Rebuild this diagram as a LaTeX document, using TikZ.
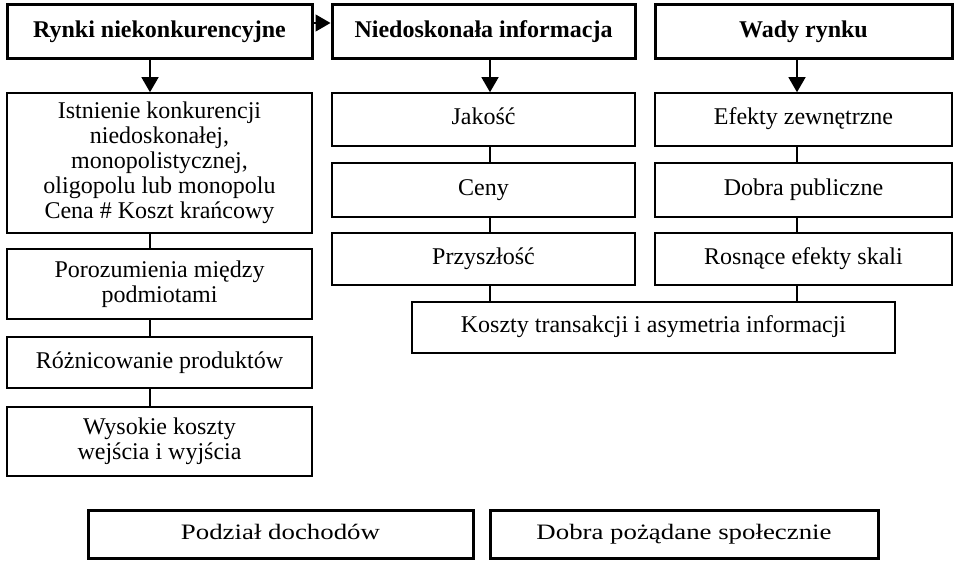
\documentclass[tikz,border=0pt]{standalone}
\usepackage{fontspec}
\usepackage{graphicx}
\setmainfont{Liberation Serif}
\usetikzlibrary{arrows.meta}
\newcommand{\widetext}[1]{\scalebox{1.22}[1]{#1}}
\begin{document}
\begin{tikzpicture}[x=1pt,y=-1pt,
  box/.style={draw, line width=1.6pt, inner sep=0pt, align=center,
    font=\fontsize{24}{25}\selectfont},
  oneline/.style={text height=16pt, text depth=5pt},
  headbox/.style={box, oneline, line width=3pt, font=\fontsize{24}{25}\selectfont\bfseries},
  basebox/.style={box, oneline, line width=3pt, font=\fontsize{22}{25}\selectfont},
  link/.style={line width=1.4pt},
  arr/.style={line width=1.4pt, -{Triangle[length=15pt,width=17pt]}}]
\useasboundingbox (0,0) rectangle (956,561);

% header row
\node[headbox, minimum width=305pt, minimum height=54pt] (h1) at (159.5,32) {Rynki niekonkurencyjne};
\node[headbox, minimum width=303pt, minimum height=54pt] (h2) at (483.5,32) {Niedoskonała informacja};
\node[headbox, minimum width=297pt, minimum height=54pt] (h3) at (803.5,32) {Wady rynku};

% left column
\node[box, minimum width=305pt, minimum height=140pt] (l1) at (159.5,163)
  {Istnienie konkurencji\\niedoskonałej,\\monopolistycznej,\\oligopolu lub monopolu\\Cena \# Koszt krańcowy};
\node[box, minimum width=305pt, minimum height=70pt] (l2) at (159.5,284) {Porozumienia między\\podmiotami};
\node[box, oneline, minimum width=305pt, minimum height=51pt] (l3) at (159.5,362.5) {Różnicowanie produktów};
\node[box, minimum width=305pt, minimum height=69pt] (l4) at (159.5,441.5) {Wysokie koszty\\wejścia i wyjścia};

% middle column
\node[box, oneline, minimum width=303pt, minimum height=53pt] (m1) at (483.5,119.5) {Jakość};
\node[box, oneline, minimum width=303pt, minimum height=54pt] (m2) at (483.5,190) {Ceny};
\node[box, oneline, minimum width=303pt, minimum height=52pt] (m3) at (483.5,259) {Przyszłość};

% right column
\node[box, oneline, minimum width=297pt, minimum height=53pt] (r1) at (803.5,119.5) {Efekty zewnętrzne};
\node[box, oneline, minimum width=297pt, minimum height=54pt] (r2) at (803.5,190) {Dobra publiczne};
\node[box, oneline, minimum width=297pt, minimum height=52pt] (r3) at (803.5,259) {Rosnące efekty skali};

% joint box
\node[box, oneline, minimum width=483pt, minimum height=51pt] (k) at (653.5,327.5) {Koszty transakcji i asymetria informacji};

% bottom row
\node[basebox, minimum width=385pt, minimum height=48pt] (b1) at (280.5,534) {\widetext{Podział dochodów}};
\node[basebox, minimum width=388pt, minimum height=48pt] (b2) at (684,534) {\widetext{Dobra pożądane społecznie}};

% connectors
\coordinate (m3j) at ([xshift=6.5pt]m3.south);
\coordinate (r3j) at ([xshift=-6.5pt]r3.south);
\draw[arr] ([yshift=9pt]h1.east) -- ([yshift=9pt]h2.west);
\draw[arr] ([xshift=-9.5pt]h1.south) -- ([xshift=-9.5pt]l1.north);
\draw[arr] ([xshift=6.5pt]h2.south) -- ([xshift=6.5pt]m1.north);
\draw[arr] ([xshift=-6.5pt]h3.south) -- ([xshift=-6.5pt]r1.north);
\draw[link] ([xshift=-9.5pt]l1.south) -- ([xshift=-9.5pt]l2.north);
\draw[link] ([xshift=-9.5pt]l2.south) -- ([xshift=-9.5pt]l3.north);
\draw[link] ([xshift=-9.5pt]l3.south) -- ([xshift=-9.5pt]l4.north);
\draw[link] ([xshift=6.5pt]m1.south) -- ([xshift=6.5pt]m2.north);
\draw[link] ([xshift=6.5pt]m2.south) -- ([xshift=6.5pt]m3.north);
\draw[link] ([xshift=-6.5pt]r1.south) -- ([xshift=-6.5pt]r2.north);
\draw[link] ([xshift=-6.5pt]r2.south) -- ([xshift=-6.5pt]r3.north);
\draw[link] (m3j) -- (m3j |- k.north);
\draw[link] (r3j) -- (r3j |- k.north);
\end{tikzpicture}
\end{document}
